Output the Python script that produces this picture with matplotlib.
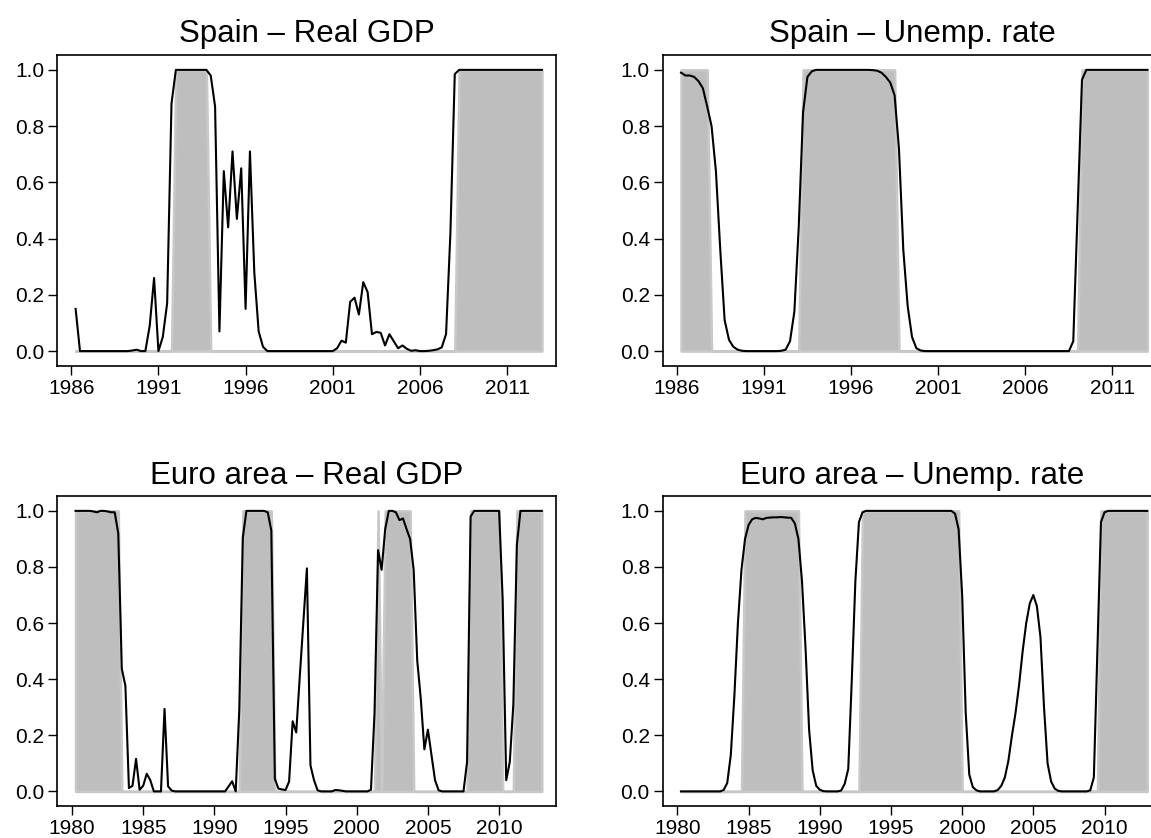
import numpy as np
import matplotlib.pyplot as plt

plt.rcParams['font.family'] = ['Liberation Sans', 'DejaVu Sans']

# Smoothed regime probabilities, quarterly.
# Spain series start in 1986Q2, euro area series in 1980Q2; all end in 2013Q1.
spain_start = 1986.25
euro_start = 1980.25

spain_gdp = [
    0.15, 0.0, 0.0,                 # 1986
    0.0, 0.0, 0.0, 0.0,             # 1987
    0.0, 0.0, 0.0, 0.0,             # 1988
    0.0, 0.0, 0.002, 0.005,         # 1989
    0.0, 0.0, 0.09, 0.26,           # 1990
    0.0, 0.05, 0.17, 0.88,          # 1991
    1.0, 1.0, 1.0, 1.0,             # 1992
    1.0, 1.0, 1.0, 1.0,             # 1993
    0.98, 0.87, 0.07, 0.64,         # 1994
    0.44, 0.71, 0.47, 0.65,         # 1995
    0.15, 0.71, 0.28, 0.07,         # 1996
    0.015, 0.0, 0.0, 0.0,           # 1997
    0.0, 0.0, 0.0, 0.0,             # 1998
    0.0, 0.0, 0.0, 0.0,             # 1999
    0.0, 0.0, 0.0, 0.0,             # 2000
    0.0, 0.01, 0.037, 0.03,         # 2001
    0.175, 0.19, 0.13, 0.245,       # 2002
    0.21, 0.06, 0.068, 0.065,       # 2003
    0.02, 0.06, 0.035, 0.01,        # 2004
    0.02, 0.008, 0.001, 0.003,      # 2005
    0.0, 0.0, 0.001, 0.003,         # 2006
    0.006, 0.013, 0.06, 0.42,       # 2007
    0.985, 1.0, 1.0, 1.0,           # 2008
    1.0, 1.0, 1.0, 1.0,             # 2009
    1.0, 1.0, 1.0, 1.0,             # 2010
    1.0, 1.0, 1.0, 1.0,             # 2011
    1.0, 1.0, 1.0, 1.0,             # 2012
    1.0,                            # 2013
]

spain_unemp = [
    0.99, 0.98, 0.98,               # 1986
    0.975, 0.96, 0.935, 0.87,       # 1987
    0.80, 0.64, 0.36, 0.11,         # 1988
    0.04, 0.015, 0.005, 0.001,      # 1989
    0.0, 0.0, 0.0, 0.0,             # 1990
    0.0, 0.0, 0.0, 0.0,             # 1991
    0.001, 0.005, 0.035, 0.14,      # 1992
    0.44, 0.85, 0.975, 0.995,       # 1993
    1.0, 1.0, 1.0, 1.0,             # 1994
    1.0, 1.0, 1.0, 1.0,             # 1995
    1.0, 1.0, 1.0, 1.0,             # 1996
    1.0, 0.999, 0.997, 0.99,        # 1997
    0.975, 0.955, 0.91, 0.72,       # 1998
    0.36, 0.16, 0.05, 0.01,         # 1999
    0.002, 0.0, 0.0, 0.0,           # 2000
    0.0, 0.0, 0.0, 0.0,             # 2001
    0.0, 0.0, 0.0, 0.0,             # 2002
    0.0, 0.0, 0.0, 0.0,             # 2003
    0.0, 0.0, 0.0, 0.0,             # 2004
    0.0, 0.0, 0.0, 0.0,             # 2005
    0.0, 0.0, 0.0, 0.0,             # 2006
    0.0, 0.0, 0.0, 0.0,             # 2007
    0.0, 0.0, 0.0, 0.035,           # 2008
    0.5, 0.965, 1.0, 1.0,           # 2009
    1.0, 1.0, 1.0, 1.0,             # 2010
    1.0, 1.0, 1.0, 1.0,             # 2011
    1.0, 1.0, 1.0, 1.0,             # 2012
    1.0,                            # 2013
]

euro_gdp = [
    1.0, 1.0, 1.0,                  # 1980
    1.0, 1.0, 0.998, 0.995,         # 1981
    1.0, 1.0, 0.998, 0.995,         # 1982
    0.995, 0.92, 0.437, 0.377,      # 1983
    0.012, 0.02, 0.116, 0.006,      # 1984
    0.02, 0.063, 0.04, 0.0,         # 1985
    0.0, 0.0, 0.294, 0.018,         # 1986
    0.003, 0.0, 0.0, 0.0,           # 1987
    0.0, 0.0, 0.0, 0.0,             # 1988
    0.0, 0.0, 0.0, 0.0,             # 1989
    0.0, 0.0, 0.0, 0.0,             # 1990
    0.018, 0.036, 0.0, 0.29,        # 1991
    0.905, 1.0, 1.0, 1.0,           # 1992
    1.0, 1.0, 1.0, 0.995,           # 1993
    0.93, 0.045, 0.01, 0.007,       # 1994
    0.005, 0.035, 0.25, 0.21,       # 1995
    0.41, 0.6, 0.795, 0.093,        # 1996
    0.04, 0.004, 0.0, 0.0,          # 1997
    0.0, 0.0, 0.005, 0.004,         # 1998
    0.002, 0.0, 0.0, 0.0,           # 1999
    0.0, 0.0, 0.0, 0.0,             # 2000
    0.006, 0.28, 0.86, 0.79,        # 2001
    0.935, 1.0, 1.0, 0.995,         # 2002
    0.967, 0.973, 0.935, 0.9,       # 2003
    0.79, 0.466, 0.33, 0.15,        # 2004
    0.22, 0.13, 0.04, 0.004,        # 2005
    0.0, 0.0, 0.0, 0.0,             # 2006
    0.0, 0.0, 0.0, 0.105,           # 2007
    0.98, 1.0, 1.0, 1.0,            # 2008
    1.0, 1.0, 1.0, 1.0,             # 2009
    1.0, 0.686, 0.04, 0.105,        # 2010
    0.31, 0.88, 1.0, 1.0,           # 2011
    1.0, 1.0, 1.0, 1.0,             # 2012
    1.0,                            # 2013
]

euro_unemp = [
    0.0, 0.0, 0.0,                  # 1980
    0.0, 0.0, 0.0, 0.0,             # 1981
    0.0, 0.0, 0.0, 0.0,             # 1982
    0.0, 0.005, 0.03, 0.13,         # 1983
    0.34, 0.6, 0.79, 0.9,           # 1984
    0.95, 0.97, 0.975, 0.973,       # 1985
    0.97, 0.975, 0.976, 0.977,      # 1986
    0.977, 0.978, 0.977, 0.976,     # 1987
    0.975, 0.955, 0.9, 0.75,        # 1988
    0.51, 0.22, 0.075, 0.02,        # 1989
    0.006, 0.001, 0.0, 0.0,         # 1990
    0.0, 0.0, 0.003, 0.027,         # 1991
    0.08, 0.4, 0.75, 0.96,          # 1992
    0.995, 1.0, 1.0, 1.0,           # 1993
    1.0, 1.0, 1.0, 1.0,             # 1994
    1.0, 1.0, 1.0, 1.0,             # 1995
    1.0, 1.0, 1.0, 1.0,             # 1996
    1.0, 1.0, 1.0, 1.0,             # 1997
    1.0, 1.0, 1.0, 1.0,             # 1998
    1.0, 1.0, 0.99, 0.935,          # 1999
    0.7, 0.28, 0.06, 0.015,         # 2000
    0.004, 0.0, 0.0, 0.0,           # 2001
    0.0, 0.0, 0.005, 0.02,          # 2002
    0.05, 0.11, 0.2, 0.28,          # 2003
    0.38, 0.5, 0.6, 0.67,           # 2004
    0.70, 0.66, 0.55, 0.3,          # 2005
    0.1, 0.035, 0.01, 0.002,        # 2006
    0.0, 0.0, 0.0, 0.0,             # 2007
    0.0, 0.0, 0.0, 0.0,             # 2008
    0.004, 0.05, 0.5, 0.96,         # 2009
    0.995, 1.0, 1.0, 1.0,           # 2010
    1.0, 1.0, 1.0, 1.0,             # 2011
    1.0, 1.0, 1.0, 1.0,             # 2012
    1.0,                            # 2013
]

# Dated low-growth / high-unemployment phases (first and last quarter)
spain_gdp_phases = [(1992.0, 1993.75), (2008.25, 2013.0)]
spain_unemp_phases = [(1986.25, 1987.75), (1993.25, 1998.5), (2009.25, 2013.0)]
euro_gdp_phases = [(1980.25, 1983.25), (1992.0, 1994.0), (2001.5, 2001.5),
                   (2002.0, 2003.75), (2008.0, 2010.0), (2011.25, 2013.0)]
euro_unemp_phases = [(1984.75, 1988.5), (1993.0, 1999.75), (2009.75, 2013.0)]

spain_ticks = [1986, 1991, 1996, 2001, 2006, 2011]
euro_ticks = [1980, 1985, 1990, 1995, 2000, 2005, 2010]
prob_ticks = [0.0, 0.2, 0.4, 0.6, 0.8, 1.0]

titles = ['Spain \u2013 Real GDP', 'Spain \u2013 Unemp. rate',
          'Euro area \u2013 Real GDP', 'Euro area \u2013 Unemp. rate']


def quarters(start, n):
    return start + 0.25 * np.arange(n)


def phase_indicator(t, phases):
    ind = np.zeros(len(t))
    for first, last in phases:
        ind[(t >= first - 1e-6) & (t <= last + 1e-6)] = 1.0
    return ind


def draw_panel(ax, title, start, prob, phases, ticks, xlim):
    prob = np.asarray(prob)
    t = quarters(start, len(prob))
    ind = phase_indicator(t, phases)

    ax.fill_between(t, 0, ind, facecolor='#BEBEBE', edgecolor='#C8C8C8',
                    linewidth=1.8, zorder=1)
    ax.plot(t, prob, color='black', linewidth=1.5, zorder=3)

    ax.set_xlim(*xlim)
    ax.set_ylim(-0.052, 1.053)
    ax.set_xticks(ticks)
    ax.set_xticklabels([str(v) for v in ticks])
    ax.set_yticks(prob_ticks)
    ax.set_yticklabels(['%.1f' % v for v in prob_ticks])
    ax.tick_params(direction='out', length=6.7, width=1.0, labelsize=15,
                   colors='black')
    ax.tick_params(axis='x', pad=2.8)
    ax.tick_params(axis='y', pad=2.6)
    for sp in ax.spines.values():
        sp.set_linewidth(1.2)
        sp.set_color('black')
    ax.set_title(title, fontsize=22.5, pad=9.0)


fig = plt.figure(figsize=(11.51, 8.38), dpi=100)

# right-hand panels run slightly past the right edge of the figure
ax_sg = fig.add_axes([0.0498, 0.5636, 0.4333, 0.3708])
ax_su = fig.add_axes([0.5758, 0.5636, 0.4333, 0.3708])
ax_eg = fig.add_axes([0.0498, 0.0382, 0.4333, 0.3699])
ax_eu = fig.add_axes([0.5758, 0.0382, 0.4333, 0.3699])

spain_xlim = (1985.2, 2013.81)
euro_xlim = (1978.97, 2014.0)

draw_panel(ax_sg, titles[0], spain_start, spain_gdp, spain_gdp_phases, spain_ticks, spain_xlim)
draw_panel(ax_su, titles[1], spain_start, spain_unemp, spain_unemp_phases, spain_ticks, spain_xlim)
draw_panel(ax_eg, titles[2], euro_start, euro_gdp, euro_gdp_phases, euro_ticks, euro_xlim)
draw_panel(ax_eu, titles[3], euro_start, euro_unemp, euro_unemp_phases, euro_ticks, euro_xlim)

fig.savefig('out.png', dpi=100)
